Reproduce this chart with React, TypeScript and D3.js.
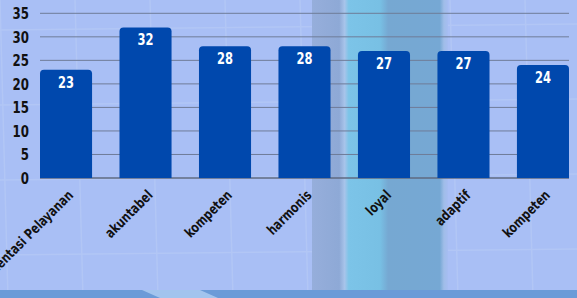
import * as d3 from "d3";
import { useEffect, useRef } from "react";

const categories = [
  "Orientasi Pelayanan",
  "akuntabel",
  "kompeten",
  "harmonis",
  "loyal",
  "adaptif",
  "kompeten ",
];
const values = [23, 32, 28, 28, 27, 27, 24];
const yTicks = [0, 5, 10, 15, 20, 25, 30, 35];

const W = 577;
const H = 298;
const FONT = "'DejaVu Sans Condensed', 'DejaVu Sans', sans-serif";

export default function App() {
  const ref = useRef<SVGSVGElement>(null);

  useEffect(() => {
    const svg = d3.select(ref.current);
    svg.selectAll("*").remove();

    // background
    const defs = svg.append("defs");
    const band = defs
      .append("linearGradient")
      .attr("id", "band")
      .attr("x1", 0)
      .attr("x2", 1);
    [
      [0, "#96aedb"],
      [0.2, "#8ea9d6"],
      [0.24, "#a8c4ea"],
      [0.27, "#7cc4e8"],
      [0.5, "#78c0e4"],
      [0.56, "#76a8d2"],
      [0.94, "#76a8d4"],
      [0.97, "#a0bde8"],
      [1, "#a6bdf2"],
    ].forEach(([o, c]) =>
      band.append("stop").attr("offset", o as number).attr("stop-color", c as string)
    );

    svg.append("rect").attr("width", W).attr("height", H).attr("fill", "#a9bff5");
    // faint background grid
    const bg = svg.append("g").attr("stroke", "#b8ccf6").attr("stroke-width", 1.5).attr("opacity", 0.6);
    d3.range(0, W, 75).forEach((x) =>
      bg.append("line").attr("x1", x).attr("x2", x + 8).attr("y1", 0).attr("y2", H)
    );
    d3.range(30, H, 75).forEach((y) =>
      bg.append("line").attr("x1", 0).attr("x2", W).attr("y1", y).attr("y2", y - 6)
    );
    svg.append("rect").attr("x", 312).attr("y", 0).attr("width", 136).attr("height", H).attr("fill", "url(#band)");
    svg.append("rect").attr("x", 0).attr("y", 290).attr("width", W).attr("height", 8).attr("fill", "#6b9bd8");
    svg
      .append("path")
      .attr("d", "M142,290 L200,290 L218,298 L160,298 Z")
      .attr("fill", "#a2c4ee");

    const x = d3.scaleBand<string>().domain(categories).range([40, 569]).paddingInner(0.345).paddingOuter(0);
    const y = d3.scaleLinear().domain([0, 35]).range([178, 13.3]);

    // gridlines
    svg
      .append("g")
      .selectAll("line")
      .data(yTicks)
      .join("line")
      .attr("x1", 40)
      .attr("x2", 569)
      .attr("y1", (d) => y(d))
      .attr("y2", (d) => y(d))
      .attr("stroke", (d) => (d === 0 ? "#5f6a80" : "#6f7c98"))
      .attr("stroke-width", (d) => (d === 0 ? 1.5 : 1));

    // y labels (narrowed to mimic the condensed face)
    svg
      .append("g")
      .selectAll("text")
      .data(yTicks)
      .join("text")
      .attr("transform", (d) => `translate(29,${y(d)}) scale(0.82,1)`)
      .attr("dy", "0.36em")
      .attr("text-anchor", "end")
      .attr("font-family", FONT)
      .attr("font-weight", "bold")
      .attr("font-size", 16)
      .attr("fill", "#111")
      .text((d) => d);

    // bars
    const r = 4;
    const bw = x.bandwidth();
    svg
      .append("g")
      .selectAll("path")
      .data(values)
      .join("path")
      .attr("fill", "#0048ad")
      .attr("d", (d, i) => {
        const x0 = x(categories[i])!;
        const y0 = y(d);
        const yb = y(0);
        return `M${x0},${yb}V${y0 + r}Q${x0},${y0} ${x0 + r},${y0}H${x0 + bw - r}Q${x0 + bw},${y0} ${x0 + bw},${y0 + r}V${yb}Z`;
      });

    // value labels
    svg
      .append("g")
      .selectAll("text")
      .data(values)
      .join("text")
      .attr("transform", (d, i) => `translate(${x(categories[i])! + bw / 2},${y(d) + 18}) scale(0.8,1)`)
      .attr("text-anchor", "middle")
      .attr("font-family", FONT)
      .attr("font-weight", "bold")
      .attr("font-size", 16)
      .attr("fill", "#fff")
      .text((d) => d);

    // x labels
    svg
      .append("g")
      .selectAll("text")
      .data(categories)
      .join("text")
      .attr("transform", (d) => `translate(${x(d)! + bw / 2 + 8},${196}) rotate(-45) scale(0.85,1)`)
      .attr("text-anchor", "end")
      .attr("font-family", FONT)
      .attr("font-weight", "bold")
      .attr("font-size", 14)
      .attr("fill", "#111")
      .text((d) => d.trim());
  }, []);

  return (
    <svg
      ref={ref}
      width={W}
      height={H}
      style={{ position: "absolute", left: 0, top: 0, display: "block" }}
    />
  );
}
